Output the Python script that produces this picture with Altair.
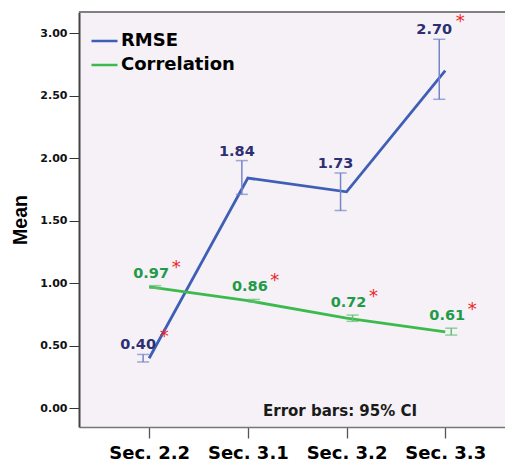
import altair as alt
import pandas as pd

# ---- data ----
sections = ["Sec. 2.2", "Sec. 3.1", "Sec. 3.2", "Sec. 3.3"]
series_names = ["RMSE", "Correlation"]
rmse_mean = [0.40, 1.84, 1.73, 2.70]
rmse_lo = [0.37, 1.71, 1.58, 2.47]
rmse_hi = [0.43, 1.98, 1.88, 2.95]
rmse_star = [True, False, False, True]
corr_mean = [0.97, 0.86, 0.72, 0.61]
corr_lo = [0.96, 0.85, 0.695, 0.585]
corr_hi = [0.98, 0.87, 0.745, 0.64]
corr_star = [True, True, True, True]
y_ticks = [0.0, 0.5, 1.0, 1.5, 2.0, 2.5, 3.0]
note_text = ["Error bars: 95% CI"]

rows = []
for name, means, los, his, stars in [
    ("RMSE", rmse_mean, rmse_lo, rmse_hi, rmse_star),
    ("Correlation", corr_mean, corr_lo, corr_hi, corr_star),
]:
    for s, m, lo, hi, st in zip(sections, means, los, his, stars):
        rows.append({"section": s, "series": name, "mean": m, "lo": lo, "hi": hi,
                     "label": f"{m:.2f}", "star": "*" if st else ""})
df = pd.DataFrame(rows)
note_df = pd.DataFrame({"note": note_text})

W, H = 426, 415
BLUE, GREEN = "#3f5fb6", "#3dba4e"
BLUE_BAR, GREEN_BAR = "#7585c9", "#62c173"
BLUE_TXT, GREEN_TXT = "#2c2f72", "#1f9b48"

xscale = alt.Scale(type="point", domain=sections, padding=0.658, align=0.54)
yscale = alt.Scale(domain=[-0.15, 3.168], nice=False, zero=False)

xaxis = alt.Axis(title=None, labelFont="DejaVu Sans", labelFontWeight="bold",
                 labelFontSize=18, labelColor="#000", labelAngle=0,
                 tickSize=11, tickColor="#555", tickWidth=1.3,
                 domainColor="#777", domainWidth=1.5, labelPadding=6, grid=False)
yaxis = alt.Axis(title="Mean", titleFont="Liberation Sans", titleFontSize=19.5,
                 titleFontWeight="bold", titleColor="#000", titlePadding=9,
                 values=y_ticks, format=".2f", labelFont="DejaVu Sans",
                 labelFontWeight="bold", labelFontSize=11, labelColor="#111",
                 tickSize=10, tickColor="#333", labelPadding=2,
                 domainColor="#444", domainWidth=2, grid=False)

base = alt.Chart(df)
X = alt.X("section:N", sort=sections, scale=xscale, axis=xaxis)


def Y(field):
    return alt.Y(field, type="quantitative", scale=yscale, axis=yaxis)


lines = base.mark_line(strokeWidth=2.8).encode(
    x=X,
    y=Y("mean"),
    color=alt.Color("series:N", scale=alt.Scale(domain=series_names, range=[BLUE, GREEN]),
                    legend=alt.Legend(orient="none", legendX=11, legendY=14.5, title=None,
                                      symbolType="stroke", symbolSize=676,
                                      symbolStrokeWidth=2.5, labelFont="DejaVu Sans",
                                      labelFontSize=18, labelFontWeight="bold",
                                      labelColor="#000", rowPadding=-4.5, padding=0,
                                      labelOffset=2)),
)


def err_layers(name, off, col):
    b = base.transform_filter(alt.datum.series == name)
    r = b.mark_rule(xOffset=off, color=col, strokeWidth=1.5).encode(
        x=X, y=Y("lo"), y2="hi:Q")
    t1 = b.mark_tick(xOffset=off, color=col, size=12, thickness=1.5).encode(
        x=X, y=Y("lo"))
    t2 = b.mark_tick(xOffset=off, color=col, size=12, thickness=1.5).encode(
        x=X, y=Y("hi"))
    return [r, t1, t2]


def label_layers(name, dx, dy, col, sdx, sdy):
    b = base.transform_filter(alt.datum.series == name)
    t = b.mark_text(dx=dx, dy=dy, font="DejaVu Sans", fontSize=14.5, fontWeight="bold",
                    color=col, baseline="alphabetic").encode(
        x=X, y=Y("hi"), text="label:N")
    s = b.mark_text(dx=sdx, dy=sdy, font="DejaVu Sans", fontSize=18,
                    color="#ee2525", baseline="alphabetic").encode(
        x=X, y=Y("hi"), text="star:N")
    return [t, s]


top_border = alt.Chart(note_df).mark_rule(color="#808080", strokeWidth=2).encode(
    x=alt.value(0), x2=alt.value(W), y=alt.value(0))

note = alt.Chart(note_df).mark_text(font="DejaVu Sans", fontSize=15, fontWeight="bold",
                                    color="#1a1a1a", align="left",
                                    baseline="alphabetic").encode(
    x=alt.value(184), y=alt.value(404), text="note:N")

layers = ([lines] + err_layers("RMSE", -6, BLUE_BAR) + err_layers("Correlation", 6, GREEN_BAR)
          + label_layers("RMSE", -11, -5, BLUE_TXT, 15, -12)
          + label_layers("Correlation", 2, -8, GREEN_TXT, 27, -13)
          + [note, top_border])

chart = alt.layer(*layers).properties(
    width=W, height=H,
    autosize=alt.AutoSizeParams(type="none"),
    padding={"left": 71, "top": 4, "right": 0, "bottom": 38},
    background="white",
).configure_view(stroke=None, fill="#f5f1f6")

chart.save("out.html", embed_options={"renderer": "svg", "actions": False})
